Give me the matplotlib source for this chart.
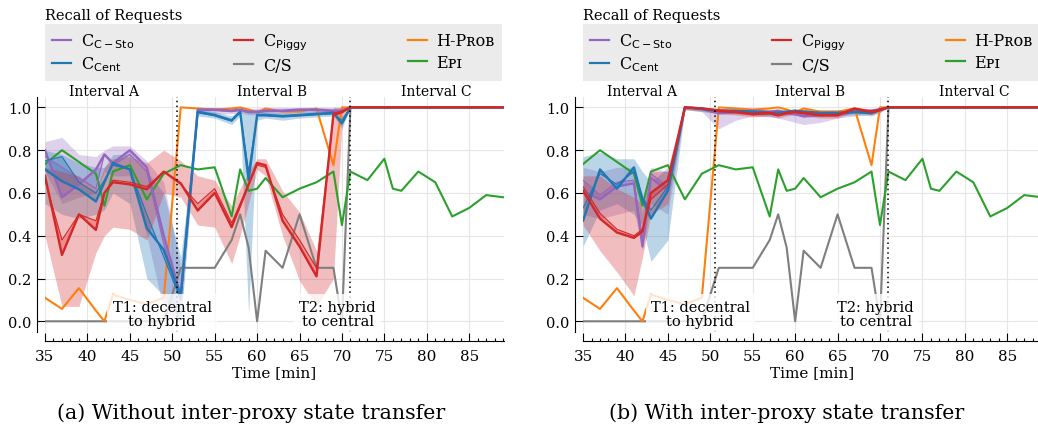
import matplotlib
matplotlib.use('Agg')
from matplotlib import pyplot as plt
from matplotlib.lines import Line2D
from matplotlib.ticker import MultipleLocator

plt.rcParams['font.family'] = ['DejaVu Serif', 'DejaVu Sans']
plt.rcParams['mathtext.fontset'] = 'dejavuserif'

# sample times [min]
times = [35, 37, 39, 41, 42, 43, 45, 47, 49, 51, 53, 55, 57, 58, 59, 60, 61, 63, 65, 67, 69, 70, 71,
         73, 75, 76, 77, 79, 81, 83, 85, 87, 89]
# interval C: every C-variant is at full recall
steady = [1.0, 1.0, 1.0, 1.0, 1.0, 1.0, 1.0, 1.0, 1.0, 1.0]

# baselines (same in both runs)
epi = [0.735, 0.80, 0.745, 0.69, 0.54, 0.70, 0.73, 0.57, 0.69, 0.73, 0.71, 0.72, 0.49, 0.71, 0.61,
       0.62, 0.67, 0.58, 0.62, 0.65, 0.70, 0.45, 0.70,
       0.66, 0.76, 0.62, 0.61, 0.70, 0.65, 0.49, 0.53, 0.59, 0.58]
h_prob = [0.11, 0.058, 0.155, 0.05, 0.0, 0.125, 0.10, 0.08, 0.11, 1.0, 0.995, 0.99, 0.995, 1.0, 0.99,
          0.977, 0.995, 0.98, 0.98, 0.995, 0.73, 1.0, 1.0] + steady
cs = [0.0, 0.0, 0.0, 0.0, 0.0, 0.0, 0.0, 0.0, 0.0, 0.25, 0.25, 0.25, 0.38, 0.50, 0.345,
      0.0, 0.33, 0.25, 0.50, 0.25, 0.25, 0.0, 1.0] + steady

# (a) without state transfer
sto_a = [0.80, 0.58, 0.64, 0.71, 0.78, 0.74, 0.80, 0.72, 0.40, 0.12, 0.99, 0.99, 0.985, 0.99, 0.98,
         0.98, 0.985, 0.985, 0.99, 0.99, 0.985, 0.985, 1.0] + steady
sto_a_run = [0.77, 0.72, 0.67, 0.62, 0.78, 0.73, 0.78, 0.70, 0.36, 0.10, 0.985, 0.985, 0.98, 0.985, 0.975,
             0.975, 0.98, 0.98, 0.985, 0.985, 0.98, 0.98, 1.0] + steady
sto_a_lo = [0.70, 0.55, 0.58, 0.60, 0.70, 0.68, 0.68, 0.40, 0.05, 0.0, 0.97, 0.97, 0.97, 0.975, 0.965,
            0.965, 0.97, 0.97, 0.975, 0.975, 0.97, 0.97, 1.0] + steady
sto_a_hi = [0.84, 0.86, 0.78, 0.77, 0.80, 0.82, 0.82, 0.75, 0.65, 0.25, 1.0, 1.0, 0.995, 1.0, 0.995,
            0.995, 1.0, 1.0, 1.0, 1.0, 1.0, 1.0, 1.0] + steady

cent_a = [0.71, 0.655, 0.617, 0.56, 0.65, 0.74, 0.71, 0.435, 0.334, 0.117, 0.98, 0.965, 0.94, 0.98, 0.66,
          0.965, 0.965, 0.96, 0.965, 0.97, 0.975, 0.925, 1.0] + steady
cent_a_run = [0.75, 0.77, 0.65, 0.60, 0.66, 0.73, 0.71, 0.50, 0.30, 0.10, 0.975, 0.96, 0.935, 0.975, 0.70,
              0.96, 0.96, 0.955, 0.96, 0.965, 0.97, 0.94, 1.0] + steady
cent_a_lo = [0.55, 0.50, 0.48, 0.50, 0.52, 0.60, 0.55, 0.20, 0.12, 0.0, 0.96, 0.95, 0.92, 0.96, 0.03,
             0.94, 0.95, 0.94, 0.95, 0.955, 0.96, 0.90, 1.0] + steady
cent_a_hi = [0.80, 0.78, 0.74, 0.72, 0.72, 0.78, 0.78, 0.70, 0.60, 0.30, 0.99, 0.98, 0.96, 0.99, 0.99,
             0.98, 0.98, 0.975, 0.98, 0.985, 0.99, 0.96, 1.0] + steady

piggy_a = [0.68, 0.31, 0.50, 0.427, 0.60, 0.65, 0.64, 0.617, 0.70, 0.645, 0.518, 0.60, 0.44, 0.54, 0.64,
           0.74, 0.73, 0.47, 0.35, 0.21, 0.97, 0.98, 1.0] + steady
piggy_a_run = [0.66, 0.38, 0.50, 0.47, 0.60, 0.66, 0.65, 0.63, 0.70, 0.64, 0.55, 0.62, 0.46, 0.55, 0.64,
               0.73, 0.72, 0.50, 0.38, 0.25, 0.96, 0.975, 1.0] + steady
piggy_a_lo = [0.40, 0.07, 0.07, 0.32, 0.40, 0.44, 0.43, 0.38, 0.60, 0.58, 0.45, 0.44, 0.27, 0.40, 0.55,
              0.71, 0.68, 0.40, 0.19, 0.07, 0.20, 0.92, 1.0] + steady
piggy_a_hi = [0.72, 0.70, 0.68, 0.62, 0.72, 0.76, 0.77, 0.74, 0.80, 0.75, 0.68, 0.66, 0.54, 0.62, 0.70,
              0.76, 0.76, 0.61, 0.51, 0.33, 1.0, 1.0, 1.0] + steady

# (b) with state transfer
sto_b = [0.61, 0.57, 0.63, 0.645, 0.35, 0.67, 0.61, 1.0, 0.995, 0.975, 0.98, 0.985, 0.98, 0.985, 0.975,
         0.97, 0.96, 0.965, 0.97, 0.98, 0.985, 0.99, 1.0] + steady
sto_b_run = [0.66, 0.59, 0.65, 0.66, 0.38, 0.69, 0.63, 1.0, 0.99, 0.97, 0.975, 0.98, 0.975, 0.98, 0.97,
             0.965, 0.955, 0.96, 0.965, 0.975, 0.98, 0.985, 1.0] + steady
sto_b_lo = [0.50, 0.48, 0.50, 0.52, 0.33, 0.55, 0.50, 0.99, 0.98, 0.90, 0.94, 0.96, 0.955, 0.95, 0.94,
            0.93, 0.92, 0.93, 0.95, 0.96, 0.97, 0.98, 1.0] + steady
sto_b_hi = [0.72, 0.70, 0.72, 0.72, 0.50, 0.72, 0.70, 1.0, 1.0, 0.99, 0.99, 0.99, 0.99, 0.99, 0.99,
            0.99, 0.99, 0.99, 0.99, 0.99, 0.995, 1.0, 1.0] + steady

cent_b = [0.47, 0.71, 0.62, 0.72, 0.57, 0.48, 0.61, 1.0, 0.995, 0.985, 0.985, 0.98, 0.975, 0.975, 0.98,
          0.985, 0.98, 0.975, 0.975, 0.98, 0.975, 0.99, 1.0] + steady
cent_b_run = [0.53, 0.69, 0.64, 0.70, 0.58, 0.52, 0.63, 1.0, 0.99, 0.98, 0.98, 0.975, 0.97, 0.97, 0.975,
              0.98, 0.975, 0.97, 0.97, 0.975, 0.97, 0.985, 1.0] + steady
cent_b_lo = [0.35, 0.52, 0.55, 0.50, 0.45, 0.28, 0.38, 0.99, 0.98, 0.97, 0.97, 0.965, 0.96, 0.96, 0.965,
             0.97, 0.965, 0.96, 0.96, 0.965, 0.96, 0.975, 1.0] + steady
cent_b_hi = [0.77, 0.79, 0.76, 0.76, 0.70, 0.65, 0.72, 1.0, 1.0, 0.995, 0.99, 0.99, 0.985, 0.985, 0.99,
             0.99, 0.99, 0.985, 0.985, 0.99, 0.985, 1.0, 1.0] + steady

piggy_b = [0.61, 0.48, 0.415, 0.39, 0.42, 0.60, 0.66, 1.0, 0.995, 0.985, 0.98, 0.97, 0.975, 0.965, 0.975,
           0.98, 0.975, 0.965, 0.965, 0.995, 0.98, 0.99, 1.0] + steady
piggy_b_run = [0.63, 0.505, 0.43, 0.40, 0.43, 0.57, 0.64, 1.0, 0.995, 0.98, 0.975, 0.965, 0.97, 0.96, 0.97,
               0.975, 0.97, 0.96, 0.96, 0.99, 0.975, 0.985, 1.0] + steady
piggy_b_lo = [0.45, 0.33, 0.23, 0.12, 0.30, 0.50, 0.55, 0.99, 0.985, 0.97, 0.965, 0.955, 0.96, 0.95, 0.96,
              0.965, 0.96, 0.95, 0.95, 0.98, 0.965, 0.98, 1.0] + steady
piggy_b_hi = [0.68, 0.68, 0.62, 0.58, 0.55, 0.70, 0.70, 1.0, 1.0, 0.995, 0.99, 0.985, 0.985, 0.98, 0.985,
              0.99, 0.99, 0.98, 0.98, 1.0, 0.99, 1.0, 1.0] + steady

labels = [r'C$_{\mathsf{C-Sto}}$', r'C$_{\mathsf{Cent}}$', r'C$_{\mathsf{Piggy}}$', 'C/S', 'H-Pʀᴏʙ', 'Eᴘɪ']
PURPLE, BLUE, RED = '#9467bd', '#1f77b4', '#d62728'
GRAY, ORANGE, GREEN = '#7f7f7f', '#ff7f0e', '#2ca02c'

switches = [50.6, 71.0]
interval_names = ['Interval A', 'Interval B', 'Interval C']
interval_pos = [41.9, 61.75, 81.1]


def draw_panel(ax, series, caption, cap_x):
    ax.plot(times, cs, color=GRAY, lw=1.5)
    ax.plot(times, h_prob, color=ORANGE, lw=1.5)
    ax.plot(times, epi, color=GREEN, lw=1.5)
    for mean, run, lo, hi, col in series:
        ax.fill_between(times, lo, hi, color=col, alpha=0.3, lw=0)
        ax.fill_between(times, mean, run, color=col, alpha=0.3, lw=0)
    for mean, run, lo, hi, col in series:
        ax.plot(times, run, color=col, lw=0.8)
        ax.plot(times, mean, color=col, lw=1.7)

    for s in switches:
        ax.axvline(s, color='k', ls=(0, (1, 2.2)), lw=1.1, zorder=4)
    box = dict(boxstyle='square,pad=0.35', fc='white', ec='none', alpha=0.8)
    ax.text(48.8, 0.035, 'T1: decentral\nto hybrid', ha='center', va='center',
            fontsize=10.5, linespacing=1.05, bbox=box, zorder=5)
    ax.text(69.5, 0.035, 'T2: hybrid\nto central', ha='center', va='center',
            fontsize=10.5, linespacing=1.05, bbox=box, zorder=5)
    for name, pos in zip(interval_names, interval_pos):
        ax.text(pos, 1.075, name, ha='center', va='center', fontsize=10)

    ax.set_xlim(35, 89.1)
    ax.set_ylim(-0.05, 1.05)
    ax.xaxis.set_major_locator(MultipleLocator(5))
    ax.xaxis.set_minor_locator(MultipleLocator(1))
    ax.yaxis.set_major_locator(MultipleLocator(0.2))
    ax.yaxis.set_major_formatter(plt.FormatStrFormatter('%.1f'))
    ax.tick_params(axis='x', which='major', direction='in', length=5.5, width=0.8, labelsize=11, pad=6)
    ax.tick_params(axis='x', which='minor', direction='in', length=2.5, width=0.8)
    ax.tick_params(axis='y', direction='in', length=6, width=0.8, labelsize=10.5, pad=4)
    ax.grid(True, which='major', color='#e6e6e6', lw=0.8)
    ax.set_axisbelow(True)
    for side in ['top', 'right']:
        ax.spines[side].set_visible(False)
    ax.spines['left'].set_position(('outward', 6))
    ax.spines['bottom'].set_position(('outward', 6.5))
    ax.set_xlabel('Time [min]', fontsize=11, labelpad=1)

    handles = [Line2D([], [], color=c, lw=1.6) for c in [PURPLE, BLUE, RED, GRAY, ORANGE, GREEN]]
    ax.legend(handles, labels, ncol=3, loc='lower left', mode='expand',
              bbox_to_anchor=(0, 1.067, 0.995, 0.24), borderaxespad=0, fontsize=11.5,
              frameon=True, fancybox=False, facecolor='#ebebeb', edgecolor='none',
              framealpha=1, handlelength=1.2, handletextpad=0.6, labelspacing=0.3,
              borderpad=0.45)
    ax.text(0.0, 1.318, 'Recall of Requests', transform=ax.transAxes, ha='left', va='bottom',
            fontsize=10.5)
    ax.figure.text(cap_x, 0.05, caption, ha='center', va='center', fontsize=14.8)


fig = plt.figure(figsize=(10.38, 4.35), dpi=100)
ax_a = fig.add_axes([0.04335, 0.2345, 0.4422, 0.5409])
ax_b = fig.add_axes([0.5617, 0.2345, 0.4422, 0.5409])

draw_panel(ax_a, [(sto_a, sto_a_run, sto_a_lo, sto_a_hi, PURPLE),
                  (cent_a, cent_a_run, cent_a_lo, cent_a_hi, BLUE),
                  (piggy_a, piggy_a_run, piggy_a_lo, piggy_a_hi, RED)],
           '(a) Without inter-proxy state transfer', 0.2423)
draw_panel(ax_b, [(sto_b, sto_b_run, sto_b_lo, sto_b_hi, PURPLE),
                  (cent_b, cent_b_run, cent_b_lo, cent_b_hi, BLUE),
                  (piggy_b, piggy_b_run, piggy_b_lo, piggy_b_hi, RED)],
           '(b) With inter-proxy state transfer', 0.7575)

fig.savefig('out.png', dpi=100)
